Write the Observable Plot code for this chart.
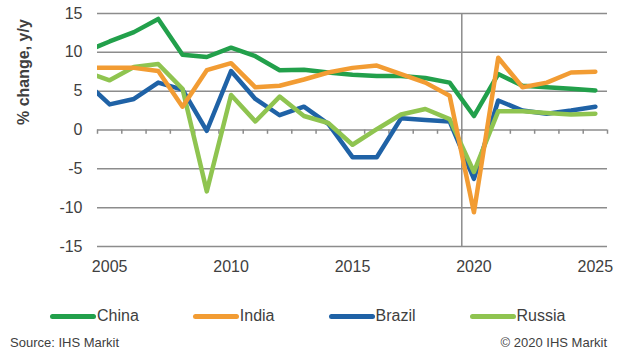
<!DOCTYPE html>
<html><head><meta charset="utf-8">
<script src="https://cdn.jsdelivr.net/npm/d3@7"></script>
<script src="https://cdn.jsdelivr.net/npm/@observablehq/plot@0.6"></script>
<style>
body{margin:0;background:#fff;}
#wrap{position:relative;width:624px;height:352px;font-family:"Liberation Sans",Arial,sans-serif;color:#404040;overflow:hidden;background:#fff}
#legend{position:absolute;left:50px;top:306px;height:20px;display:flex;gap:54px;font-size:16px;line-height:20px}
.item{display:flex;align-items:center}
.sw{width:46px;height:5px;border-radius:3px;margin-right:1px}
#src{position:absolute;left:10px;top:335px;font-size:13px;line-height:16px}
#copy{position:absolute;right:17px;top:335px;font-size:13px;line-height:16px}
</style></head><body>
<div id="wrap"><div id="chart"></div><div id="legend"></div><div id="src">Source: IHS Markit</div><div id="copy">© 2020 IHS Markit</div></div>
<script>
const years = [2004,2005,2006,2007,2008,2009,2010,2011,2012,2013,2014,2015,2016,2017,2018,2019,2020,2021,2022,2023,2024,2025];
const china  = [10.1,11.4,12.6,14.3,9.7,9.4,10.6,9.5,7.7,7.75,7.4,7.1,6.95,6.95,6.7,6.1,1.8,7.2,5.7,5.5,5.3,5.1];
const india  = [8.0,8.0,8.0,7.6,3.0,7.7,8.6,5.5,5.7,6.5,7.4,8.0,8.3,7.2,6.1,4.4,-10.6,9.3,5.5,6.1,7.4,7.5];
const brazil = [6.2,3.3,4.0,6.1,5.2,-0.1,7.6,4.0,1.9,3.0,0.8,-3.5,-3.5,1.5,1.3,1.1,-6.3,3.8,2.5,2.1,2.5,3.0];
const russia = [7.5,6.4,8.1,8.5,5.3,-7.9,4.5,1.1,4.3,1.8,0.9,-1.9,0.1,2.0,2.7,1.4,-5.4,2.4,2.4,2.2,2.0,2.1];
const seriesNames = ["China","India","Brazil","Russia"];
const seriesColors = ["#22a04b","#f29c33","#1f62a6","#8fc450"];
const xTickLabels = [2005,2010,2015,2020,2025];
const yTicks = [-15,-10,-5,0,5,10,15];
const forecastStart = 2019.5;

const values = {China: china, India: india, Brazil: brazil, Russia: russia};
const drawOrder = ["China","Brazil","Russia","India"];
const rows = drawOrder.flatMap(s => years.map((yr, i) => ({series: s, year: yr, value: values[s][i]})));
const boundaries = [years[0] + 0.5, ...years.map(y => y + 0.5)].filter((v,i,a)=>a.indexOf(v)===i);
const gridColor = "#8c8c8c";

const chart = Plot.plot({
  width: 624, height: 285,
  marginLeft: 97, marginRight: 17, marginTop: 13, marginBottom: 39,
  style: {fontFamily: '"Liberation Sans", Arial, sans-serif', fontSize: "16px", color: "#404040", background: "white"},
  x: {domain: [2004.5, 2025.5], ticks: xTickLabels, tickFormat: d => String(d), tickSize: 0, tickPadding: 14, label: null},
  y: {domain: [-15, 15], ticks: yTicks, tickFormat: d => String(d), tickSize: 0, tickPadding: 15, label: null},
  color: {domain: seriesNames, range: seriesColors},
  marks: [
    Plot.ruleY(yTicks, {stroke: gridColor, strokeWidth: 1.5}),
    Plot.ruleX(boundaries, {y1: 0, y2: -0.55, stroke: gridColor, strokeWidth: 1.5}),
    Plot.ruleX([forecastStart], {y1: -15, y2: 15, stroke: gridColor, strokeWidth: 1.5}),
    Plot.line(rows, {x: "year", y: "value", z: "series", stroke: "series", strokeWidth: 4.5, clip: true}),
    Plot.text(["% change, y/y"], {frameAnchor: "left", rotate: -90, dx: -74, dy: -5, fontWeight: "bold", fontSize: 16, fill: "#404040"})
  ]
});
document.getElementById("chart").appendChild(chart);

const legend = document.getElementById("legend");
seriesNames.forEach((name, i) => {
  const it = document.createElement("div"); it.className = "item";
  const sw = document.createElement("span"); sw.className = "sw"; sw.style.background = seriesColors[i];
  const lb = document.createElement("span"); lb.textContent = name;
  it.appendChild(sw); it.appendChild(lb); legend.appendChild(it);
});
</script>
</body></html>
